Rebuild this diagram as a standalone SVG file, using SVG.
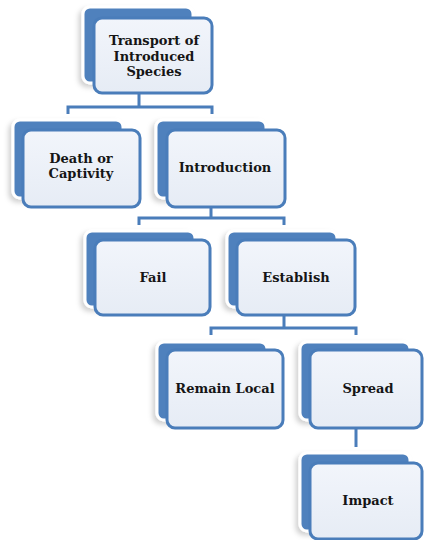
<svg xmlns="http://www.w3.org/2000/svg" width="424" height="540" viewBox="0 0 424 540">
<defs>
<linearGradient id="fg" x1="0" y1="0" x2="0" y2="1">
<stop offset="0" stop-color="#f2f5fb"/>
<stop offset="1" stop-color="#e6ecf5"/>
</linearGradient>
<filter id="sh" x="-15%" y="-15%" width="135%" height="135%">
<feDropShadow dx="-3" dy="3" stdDeviation="2.5" flood-color="#000" flood-opacity="0.18"/>
</filter>
</defs>
<style>
.back{fill:#4f81bd;stroke:#ffffff;stroke-width:3;filter:url(#sh)}
.front{fill:url(#fg);stroke:#4a7dba;stroke-width:3}
.lbl{font-family:"DejaVu Serif",serif;font-weight:bold;font-size:13px;fill:#151515;text-anchor:middle}
.conn{fill:none;stroke:#4a7dba;stroke-width:3}
</style>
<rect width="424" height="540" fill="#ffffff"/>
<g id="connectors">
<path class="conn" d="M139,93 V107 M68,114 V107 H212 V114"/>
<path class="conn" d="M211,207 V218 M139,225 V218 H284 V225"/>
<path class="conn" d="M284,315 V328 M211,335 V328 H356 V335"/>
<path class="conn" d="M356,428 V447"/>
</g>
<g id="n-transport">
<rect class="back" x="83" y="7" width="110" height="76" rx="7"/>
<rect class="front" x="94" y="18" width="118" height="75" rx="8"/>
<text class="lbl" x="154" y="45">Transport of</text>
<text class="lbl" x="154" y="61">Introduced</text>
<text class="lbl" x="154" y="76">Species</text>
</g>
<g id="n-death">
<rect class="back" x="13" y="120" width="110" height="78" rx="7"/>
<rect class="front" x="23" y="130" width="117" height="77" rx="8"/>
<text class="lbl" x="81" y="163">Death or</text>
<text class="lbl" x="81" y="178">Captivity</text>
</g>
<g id="n-introduction">
<rect class="back" x="156" y="120" width="110" height="78" rx="7"/>
<rect class="front" x="167" y="130" width="118" height="77" rx="8"/>
<text class="lbl" x="225" y="172">Introduction</text>
</g>
<g id="n-fail">
<rect class="back" x="85" y="231" width="110" height="76" rx="7"/>
<rect class="front" x="95" y="240" width="115" height="75" rx="8"/>
<text class="lbl" x="153" y="282">Fail</text>
</g>
<g id="n-establish">
<rect class="back" x="227" y="231" width="110" height="76" rx="7"/>
<rect class="front" x="237" y="240" width="118" height="75" rx="8"/>
<text class="lbl" x="296" y="282">Establish</text>
</g>
<g id="n-remain">
<rect class="back" x="157" y="342" width="110" height="78" rx="7"/>
<rect class="front" x="167" y="350" width="116" height="78" rx="8"/>
<text class="lbl" x="225" y="393">Remain Local</text>
</g>
<g id="n-spread">
<rect class="back" x="300" y="342" width="110" height="78" rx="7"/>
<rect class="front" x="310" y="350" width="112" height="78" rx="8"/>
<text class="lbl" x="368" y="393">Spread</text>
</g>
<g id="n-impact">
<rect class="back" x="300" y="453" width="110" height="78" rx="7"/>
<rect class="front" x="310" y="463" width="112" height="76" rx="8"/>
<text class="lbl" x="368" y="505">Impact</text>
</g>
</svg>
